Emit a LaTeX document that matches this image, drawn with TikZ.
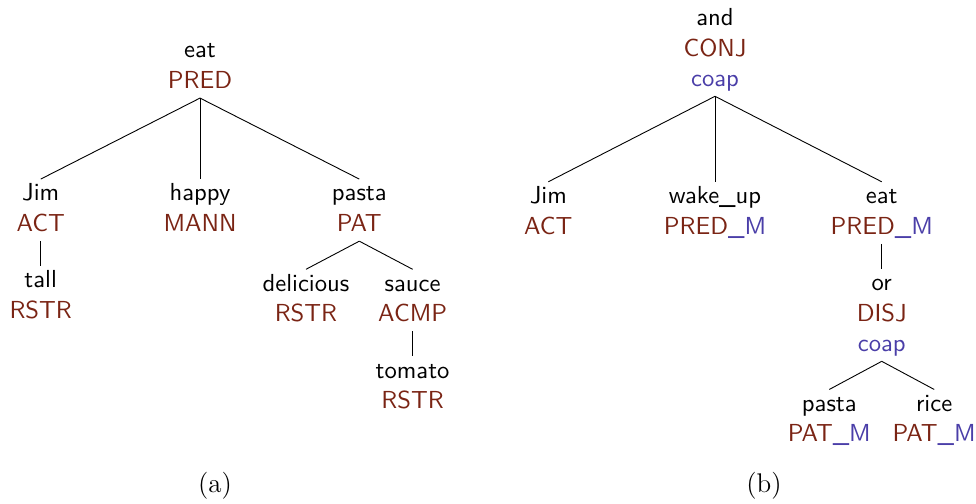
\documentclass[tikz,border=0pt]{standalone}
\usepackage{xcolor}
\usepackage{tikz}
\usetikzlibrary{positioning}
\definecolor{functorred}{RGB}{122,36,20}
\definecolor{coapblue}{RGB}{74,62,168}
\tikzset{tree-line/.style={line width=0.4pt}}
\tikzset{tree-node/.style={align=center, inner sep=0pt, font=\fontsize{10.95}{13.6}\selectfont\sffamily}}
\tikzset{tree-caption/.style={anchor=base, inner sep=0pt, font=\fontsize{12}{14.5}\selectfont\rmfamily}}
\newcommand{\fun}[1]{\strut\textcolor{functorred}{#1}}
\newcommand{\coap}[1]{\strut\textcolor{coapblue}{#1}}

\begin{document}
\begin{tikzpicture}[]
            \useasboundingbox (0,0) rectangle (433.8pt,-223.6pt);

            % (a)
            \node[tree-node, anchor=north] (a-eat) at (88.9pt,-16pt) {\strut eat\\\fun{PRED}};

            \node[tree-node, below=36pt of a-eat.south, xshift=-70.8pt] (a-jim) {\strut Jim\\\fun{ACT}};
            \node[tree-node, below=36pt of a-eat.south] (a-happy) {\strut happy\\\fun{MANN}};
            \node[tree-node, below=36pt of a-eat.south, xshift=70.8pt] (a-pasta) {\strut pasta\\\fun{PAT}};

            \node[tree-node, below=11pt of a-jim.south] (a-tall) {\strut tall\\\fun{RSTR}};

            \node[tree-node, below=12.5pt of a-pasta.south, xshift=-23.7pt] (a-delicious) {\strut delicious\\\fun{RSTR}};
            \node[tree-node, below=12.5pt of a-pasta.south, xshift=23.7pt] (a-sauce) {\strut sauce\\\fun{ACMP}};

            \node[tree-node, below=11pt of a-sauce.south] (a-tomato) {\strut tomato\\\fun{RSTR}};

            \draw[tree-line] (a-eat.south) -- (a-jim.north);
            \draw[tree-line] (a-eat.south) -- (a-happy.north);
            \draw[tree-line] (a-eat.south) -- (a-pasta.north);
            \draw[tree-line] (a-jim.south) -- (a-tall.north);
            \draw[tree-line] (a-pasta.south) -- (a-delicious.north);
            \draw[tree-line] (a-pasta.south) -- (a-sauce.north);
            \draw[tree-line] (a-sauce.south) -- (a-tomato.north);

            % (b)
            \node[tree-node, anchor=north] (b-and) at (317.8pt,-1.6pt) {\strut and\\\fun{CONJ}\\\coap{coap}};

            \node[tree-node, below=38pt of b-and.south, xshift=-74.1pt] (b-jim) {\strut Jim\\\fun{ACT}};
            \node[tree-node, below=38pt of b-and.south] (b-wakeup) {\strut wake\_up\\\fun{PRED}\textcolor{coapblue}{\_M}};
            \node[tree-node, below=38pt of b-and.south, xshift=74.1pt] (b-eat) {\strut eat\\\fun{PRED}\textcolor{coapblue}{\_M}};

            \node[tree-node, below=11pt of b-eat.south] (b-or) {\strut or\\\fun{DISJ}\\\coap{coap}};

            \node[tree-node, below=12.5pt of b-or.south, xshift=-23.3pt] (b-pasta) {\strut pasta\\\fun{PAT}\textcolor{coapblue}{\_M}};
            \node[tree-node, below=12.5pt of b-or.south, xshift=23.3pt] (b-rice) {\strut rice\\\fun{PAT}\textcolor{coapblue}{\_M}};

            \draw[tree-line] (b-and.south) -- (b-jim.north);
            \draw[tree-line] (b-and.south) -- (b-wakeup.north);
            \draw[tree-line] (b-and.south) -- (b-eat.north);
            \draw[tree-line] (b-eat.south) -- (b-or.north);
            \draw[tree-line] (b-or.south) -- (b-pasta.north);
            \draw[tree-line] (b-or.south) -- (b-rice.north);

            \node[tree-caption] (cap-a) at (95.6pt,-218.8pt) {(a)};
            \node[tree-caption] (cap-b) at (339.6pt,-218.8pt) {(b)};
        \end{tikzpicture}
\end{document}
